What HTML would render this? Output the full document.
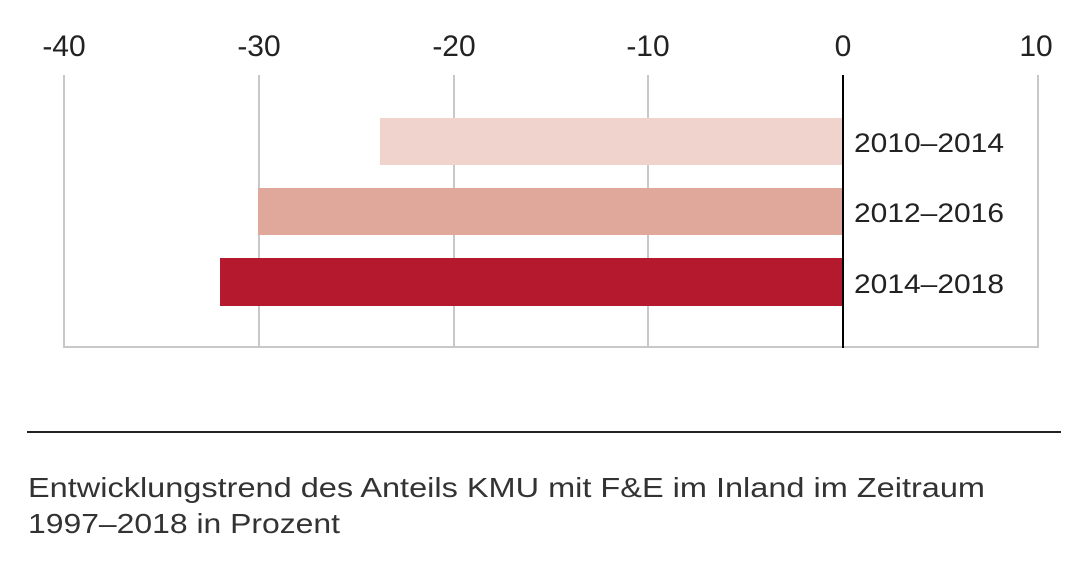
<!DOCTYPE html>
<html><head><meta charset="utf-8"><style>
html,body{margin:0;padding:0;background:#fff;}
body{width:1088px;height:558px;overflow:hidden;}
</style></head><body>
<svg width="1088" height="558" xmlns="http://www.w3.org/2000/svg" font-family="Liberation Sans, sans-serif">
<g stroke="#c8c8c8" stroke-width="2">
<line x1="64" y1="75" x2="64" y2="348"/>
<line x1="259" y1="75" x2="259" y2="348"/>
<line x1="454" y1="75" x2="454" y2="348"/>
<line x1="648" y1="75" x2="648" y2="348"/>
<line x1="1038" y1="75" x2="1038" y2="348"/>
<line x1="63" y1="347" x2="1039" y2="347"/>
</g>
<rect x="380" y="118" width="463" height="47" fill="#f0d3cd"/>
<rect x="258" y="188" width="585" height="47" fill="#e0a89b"/>
<rect x="220" y="258" width="623" height="48" fill="#b5192e"/>
<line x1="843" y1="75" x2="843" y2="348" stroke="#000" stroke-width="2"/>
<g font-size="30" fill="#222" text-anchor="middle">
<text x="64" y="56">-40</text>
<text x="259" y="56">-30</text>
<text x="454" y="56">-20</text>
<text x="648" y="56">-10</text>
<text x="843" y="56">0</text>
<text x="1036" y="56">10</text>
</g>
<g font-size="27" fill="#222">
<text x="854" y="152" textLength="150" lengthAdjust="spacingAndGlyphs">2010–2014</text>
<text x="854" y="222" textLength="150" lengthAdjust="spacingAndGlyphs">2012–2016</text>
<text x="854" y="293" textLength="150" lengthAdjust="spacingAndGlyphs">2014–2018</text>
</g>
<line x1="27" y1="432" x2="1061" y2="432" stroke="#222" stroke-width="2"/>
<g font-size="28" fill="#333">
<text x="28" y="497" textLength="957" lengthAdjust="spacingAndGlyphs">Entwicklungstrend des Anteils KMU mit F&amp;E im Inland im Zeitraum</text>
<text x="28" y="533" textLength="312" lengthAdjust="spacingAndGlyphs">1997–2018 in Prozent</text>
</g>
</svg>
</body></html>
